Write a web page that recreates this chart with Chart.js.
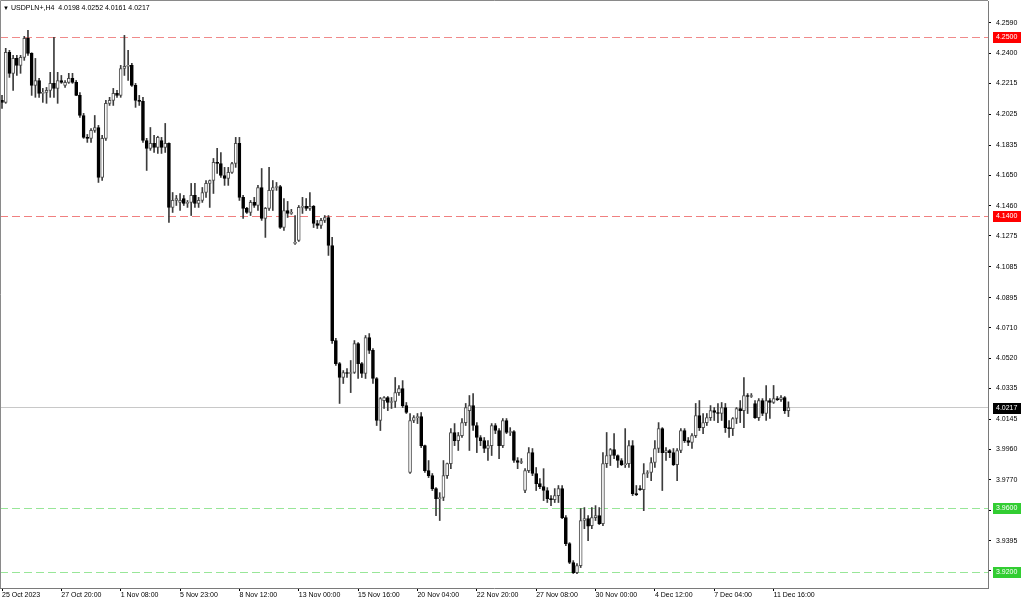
<!DOCTYPE html>
<html>
<head>
<meta charset="utf-8">
<title>USDPLN+,H4</title>
<script src="https://cdn.jsdelivr.net/npm/chart.js@4.4.0/dist/chart.umd.min.js"></script>
<style>
html, body { margin: 0; padding: 0; background: #fff; }
#wrap { width: 1024px; height: 600px; }
</style>
</head>
<body>
<div id="wrap"><canvas id="myChart" width="1024" height="600"></canvas></div>
<script>
const symbol = 'USDPLN+,H4';

// H4 bars, 25 Oct 2023 04:00 .. 12 Dec 2023 08:00 (213 bars)
const opens = [
  4.2111, 4.2099, 4.2407, 4.2278, 4.2370, 4.2327, 4.2376, 4.2494, 4.2401, 4.2204,
  4.2234, 4.2154, 4.2160, 4.2173, 4.2216, 4.2185, 4.2234, 4.2204, 4.2222, 4.2247,
  4.2222, 4.2142, 4.2018, 4.1883, 4.1877, 4.1926, 4.1944, 4.1636, 4.1877, 4.2093,
  4.2111, 4.2154, 4.2142, 4.2308, 4.2321, 4.2327, 4.2204, 4.2111, 4.2105, 4.1864,
  4.1815, 4.1846, 4.1821, 4.1864, 4.1821, 4.1846, 4.1451, 4.1494, 4.1482, 4.1506,
  4.1476, 4.1482, 4.1525, 4.1476, 4.1494, 4.1543, 4.1599, 4.1617, 4.1729, 4.1722,
  4.1648, 4.1630, 4.1667, 4.1722, 4.1846, 4.1513, 4.1445, 4.1420, 4.1482, 4.1463,
  4.1574, 4.1383, 4.1445, 4.1556, 4.1574, 4.1580, 4.1327, 4.1432, 4.1414, 4.1229,
  4.1247, 4.1451, 4.1457, 4.1445, 4.1457, 4.1352, 4.1340, 4.1371, 4.1389, 4.1216,
  4.0630, 4.0488, 4.0402, 4.0433, 4.0427, 4.0433, 4.0612, 4.0488, 4.0427, 4.0649,
  4.0569, 4.0396, 4.0137, 4.0260, 4.0279, 4.0248, 4.0254, 4.0309, 4.0334, 4.0229,
  3.9816, 4.0137, 4.0155, 4.0161, 3.9982, 3.9828, 3.9797, 3.9717, 3.9655, 3.9662,
  3.9797, 3.9871, 4.0063, 4.0013, 4.0044, 4.0124, 4.0198, 4.0229, 4.0106, 4.0032,
  4.0013, 3.9964, 3.9982, 4.0106, 4.0075, 3.9982, 4.0137, 4.0063, 4.0069, 3.9890,
  3.9878, 3.9705, 3.9828, 3.9939, 3.9810, 3.9748, 3.9729, 3.9705, 3.9655, 3.9649,
  3.9674, 3.9717, 3.9538, 3.9378, 3.9261, 3.9199, 3.9242, 3.9520, 3.9532, 3.9489,
  3.9538, 3.9550, 3.9501, 3.9871, 3.9921, 3.9958, 3.9921, 3.9890, 3.9865, 3.9871,
  3.9982, 3.9686, 3.9717, 3.9711, 3.9810, 3.9816, 3.9878, 3.9964, 4.0087, 3.9939,
  3.9952, 3.9939, 3.9865, 3.9952, 4.0075, 4.0013, 4.0001, 4.0044, 4.0167, 4.0093,
  4.0124, 4.0155, 4.0198, 4.0186, 4.0180, 4.0217, 4.0093, 4.0087, 4.0149, 4.0211,
  4.0198, 4.0291, 4.0285, 4.0242, 4.0155, 4.0260, 4.0180, 4.0260, 4.0248, 4.0272,
  4.0266, 4.0279, 4.0198
];
const highs = [
  4.2142, 4.2432, 4.2420, 4.2389, 4.2389, 4.2389, 4.2506, 4.2543, 4.2405, 4.2370,
  4.2247, 4.2185, 4.2191, 4.2284, 4.2500, 4.2284, 4.2265, 4.2234, 4.2278, 4.2278,
  4.2234, 4.2160, 4.2031, 4.1901, 4.1938, 4.2018, 4.1957, 4.1895, 4.2111, 4.2130,
  4.2185, 4.2173, 4.2327, 4.2512, 4.2420, 4.2339, 4.2216, 4.2142, 4.2130, 4.1877,
  4.1944, 4.1895, 4.1890, 4.1883, 4.1969, 4.1850, 4.1543, 4.1525, 4.1537, 4.1525,
  4.1494, 4.1599, 4.1599, 4.1513, 4.1574, 4.1617, 4.1620, 4.1753, 4.1815, 4.1790,
  4.1698, 4.1698, 4.1729, 4.1883, 4.1883, 4.1525, 4.1451, 4.1494, 4.1513, 4.1587,
  4.1691, 4.1451, 4.1698, 4.1617, 4.1605, 4.1587, 4.1506, 4.1488, 4.1439, 4.1401,
  4.1463, 4.1513, 4.1506, 4.1543, 4.1463, 4.1371, 4.1383, 4.1401, 4.1401, 4.1266,
  4.0643, 4.0495, 4.0445, 4.0457, 4.0507, 4.0630, 4.0618, 4.0495, 4.0661, 4.0673,
  4.0581, 4.0402, 4.0279, 4.0285, 4.0285, 4.0279, 4.0402, 4.0353, 4.0383, 4.0248,
  4.0180, 4.0167, 4.0180, 4.0186, 3.9985, 3.9890, 3.9810, 3.9723, 3.9692, 3.9890,
  3.9875, 4.0087, 4.0118, 4.0063, 4.0149, 4.0242, 4.0291, 4.0303, 4.0124, 4.0044,
  4.0032, 4.0013, 4.0118, 4.0118, 4.0087, 4.0149, 4.0149, 4.0093, 4.0075, 3.9908,
  3.9902, 3.9840, 3.9970, 3.9964, 3.9847, 3.9779, 3.9840, 3.9723, 3.9674, 3.9717,
  3.9736, 3.9736, 3.9550, 3.9384, 3.9273, 3.9254, 3.9594, 3.9600, 3.9550, 3.9600,
  3.9612, 3.9600, 3.9939, 4.0063, 3.9964, 4.0056, 3.9925, 3.9902, 4.0087, 4.0013,
  4.0013, 3.9736, 3.9736, 3.9871, 3.9828, 3.9908, 4.0013, 4.0124, 4.0093, 3.9970,
  3.9958, 3.9964, 3.9964, 4.0087, 4.0087, 4.0032, 4.0056, 4.0242, 4.0260, 4.0180,
  4.0180, 4.0229, 4.0217, 4.0242, 4.0248, 4.0242, 4.0137, 4.0155, 4.0217, 4.0260,
  4.0402, 4.0303, 4.0303, 4.0260, 4.0272, 4.0272, 4.0353, 4.0272, 4.0353, 4.0285,
  4.0291, 4.0285, 4.0252
];
const lows = [
  4.2062, 4.2093, 4.2253, 4.2173, 4.2265, 4.2278, 4.2358, 4.2389, 4.2142, 4.2130,
  4.2130, 4.2099, 4.2093, 4.2130, 4.2130, 4.2093, 4.2216, 4.2191, 4.2216, 4.2216,
  4.2140, 4.2006, 4.1877, 4.1852, 4.1852, 4.1914, 4.1605, 4.1617, 4.1864, 4.2080,
  4.2080, 4.2130, 4.2130, 4.2265, 4.2234, 4.2197, 4.2068, 4.2080, 4.1852, 4.1679,
  4.1803, 4.1790, 4.1784, 4.1784, 4.1790, 4.1358, 4.1420, 4.1463, 4.1432, 4.1463,
  4.1451, 4.1401, 4.1451, 4.1451, 4.1482, 4.1513, 4.1451, 4.1537, 4.1661, 4.1636,
  4.1587, 4.1587, 4.1661, 4.1698, 4.1494, 4.1383, 4.1414, 4.1401, 4.1451, 4.1432,
  4.1371, 4.1266, 4.1432, 4.1432, 4.1556, 4.1321, 4.1309, 4.1389, 4.1408, 4.1223,
  4.1241, 4.1414, 4.1432, 4.1432, 4.1327, 4.1321, 4.1321, 4.1358, 4.1155, 4.0612,
  4.0476, 4.0242, 4.0365, 4.0402, 4.0309, 4.0427, 4.0396, 4.0402, 4.0396, 4.0550,
  4.0365, 4.0106, 4.0075, 4.0211, 4.0198, 4.0211, 4.0217, 4.0291, 4.0217, 4.0180,
  3.9810, 4.0124, 4.0118, 3.9970, 3.9816, 3.9785, 3.9705, 3.9550, 3.9520, 3.9643,
  3.9779, 3.9840, 3.9982, 3.9952, 4.0032, 4.0106, 3.9952, 4.0075, 3.9939, 3.9982,
  3.9939, 3.9890, 3.9921, 4.0056, 3.9902, 3.9970, 4.0056, 4.0044, 3.9878, 3.9840,
  3.9871, 3.9692, 3.9816, 3.9797, 3.9705, 3.9717, 3.9643, 3.9631, 3.9612, 3.9631,
  3.9631, 3.9532, 3.9365, 3.9254, 3.9193, 3.9193, 3.9230, 3.9470, 3.9396, 3.9470,
  3.9520, 3.9495, 3.9489, 3.9847, 3.9859, 3.9902, 3.9847, 3.9859, 3.9847, 3.9847,
  3.9674, 3.9674, 3.9705, 3.9581, 3.9785, 3.9766, 3.9847, 3.9939, 3.9705, 3.9890,
  3.9908, 3.9859, 3.9766, 3.9939, 4.0001, 3.9982, 3.9964, 4.0032, 4.0075, 4.0056,
  4.0106, 4.0137, 4.0137, 4.0124, 4.0137, 4.0063, 4.0032, 4.0044, 4.0118, 4.0124,
  4.0093, 4.0180, 4.0279, 4.0149, 4.0137, 4.0167, 4.0137, 4.0149, 4.0242, 4.0260,
  4.0254, 4.0180, 4.0161
];
const closes = [
  4.2099, 4.2407, 4.2278, 4.2370, 4.2327, 4.2376, 4.2494, 4.2401, 4.2204, 4.2234,
  4.2154, 4.2160, 4.2173, 4.2216, 4.2185, 4.2234, 4.2222, 4.2222, 4.2247, 4.2222,
  4.2142, 4.2018, 4.1883, 4.1877, 4.1926, 4.1944, 4.1636, 4.1877, 4.2093, 4.2111,
  4.2154, 4.2142, 4.2308, 4.2321, 4.2327, 4.2204, 4.2111, 4.2105, 4.1864, 4.1815,
  4.1846, 4.1821, 4.1883, 4.1821, 4.1846, 4.1451, 4.1494, 4.1506, 4.1494, 4.1476,
  4.1482, 4.1525, 4.1476, 4.1494, 4.1543, 4.1599, 4.1617, 4.1729, 4.1722, 4.1648,
  4.1630, 4.1667, 4.1722, 4.1846, 4.1513, 4.1445, 4.1420, 4.1482, 4.1463, 4.1574,
  4.1383, 4.1445, 4.1556, 4.1574, 4.1580, 4.1327, 4.1432, 4.1414, 4.1420, 4.1235,
  4.1451, 4.1457, 4.1445, 4.1457, 4.1352, 4.1340, 4.1371, 4.1389, 4.1216, 4.0630,
  4.0488, 4.0402, 4.0433, 4.0427, 4.0433, 4.0612, 4.0488, 4.0427, 4.0649, 4.0569,
  4.0396, 4.0137, 4.0272, 4.0279, 4.0248, 4.0254, 4.0309, 4.0334, 4.0229, 4.0186,
  4.0137, 4.0155, 4.0161, 3.9982, 3.9828, 3.9797, 3.9717, 3.9655, 3.9662, 3.9797,
  3.9871, 4.0063, 4.0013, 4.0044, 4.0124, 4.0217, 4.0229, 4.0106, 4.0032, 4.0013,
  3.9964, 3.9982, 4.0106, 4.0075, 3.9982, 4.0137, 4.0063, 4.0069, 3.9890, 3.9878,
  3.9884, 3.9828, 3.9939, 3.9810, 3.9748, 3.9729, 3.9705, 3.9655, 3.9649, 3.9674,
  3.9717, 3.9538, 3.9378, 3.9261, 3.9199, 3.9242, 3.9520, 3.9532, 3.9485, 3.9538,
  3.9550, 3.9501, 3.9871, 3.9921, 3.9958, 3.9921, 3.9890, 3.9865, 3.9871, 3.9982,
  3.9686, 3.9680, 3.9711, 3.9810, 3.9816, 3.9878, 3.9964, 4.0087, 3.9939, 3.9952,
  3.9939, 3.9865, 3.9952, 4.0075, 4.0013, 4.0001, 4.0044, 4.0167, 4.0093, 4.0124,
  4.0155, 4.0198, 4.0186, 4.0180, 4.0217, 4.0093, 4.0087, 4.0149, 4.0211, 4.0198,
  4.0291, 4.0285, 4.0291, 4.0155, 4.0260, 4.0180, 4.0260, 4.0248, 4.0272, 4.0266,
  4.0279, 4.0198, 4.0217
];

// time axis: a label every 16 bars
const xTickPos = [0, 16, 32, 48, 64, 80, 96, 112, 128, 144, 160, 176, 192, 208];
const xTickLabels = ['25 Oct 2023', '27 Oct 20:00', '1 Nov 08:00', '5 Nov 23:00', '8 Nov 12:00',
  '13 Nov 00:00', '15 Nov 16:00', '20 Nov 04:00', '22 Nov 20:00', '27 Nov 08:00',
  '30 Nov 00:00', '4 Dec 12:00', '7 Dec 04:00', '11 Dec 16:00'];

// price axis
const yTicks = [4.2590, 4.2400, 4.2215, 4.2025, 4.1835, 4.1650, 4.1460, 4.1275, 4.1085, 4.0895,
  4.0710, 4.0520, 4.0335, 4.0145, 3.9960, 3.9770, 3.9580, 3.9395, 3.9210];

// horizontal levels
const levels = [4.2500, 4.1400, 3.9600, 3.9200];
const levelLine = ['#f08a8a', '#f08080', '#98e698', '#98e698'];
const levelBox = ['#ff0000', '#ff0000', '#32cd32', '#32cd32'];

const FONT = "'Liberation Sans', 'DejaVu Sans', sans-serif";
const last = closes.length - 1;

const wickData = opens.map((o, i) => ({
  x: i,
  y: [Math.min(lows[i], o, closes[i]), Math.max(highs[i], o, closes[i])]
}));
const bodyData = opens.map((o, i) => ({x: i, y: [o, closes[i]]}));
const bodyFill = opens.map((o, i) => closes[i] >= o ? '#ffffff' : '#000000');
const bodyLine = opens.map((o, i) => closes[i] >= o ? '#505050' : '#000000');

// levels, bid line, axis boxes and the title
const mtOverlay = {
  id: 'mtOverlay',
  beforeDatasetsDraw(chart) {
    const ctx = chart.ctx, a = chart.chartArea, y = chart.scales.y;
    ctx.save();
    ctx.lineWidth = 1;
    // bid line
    let py = Math.round(y.getPixelForValue(closes[last])) - 0.5;
    ctx.strokeStyle = '#c8c8c8';
    ctx.beginPath(); ctx.moveTo(a.left, py); ctx.lineTo(a.right, py); ctx.stroke();
    ctx.setLineDash([8, 4]);
    levels.forEach((v, k) => {
      py = Math.round(y.getPixelForValue(v)) + 0.5;
      ctx.strokeStyle = levelLine[k];
      ctx.beginPath(); ctx.moveTo(a.left, py); ctx.lineTo(a.right, py); ctx.stroke();
    });
    ctx.restore();
  },
  afterDraw(chart) {
    const ctx = chart.ctx, a = chart.chartArea, y = chart.scales.y;
    ctx.save();
    // frame top/left
    ctx.strokeStyle = '#8a8a8a';
    ctx.lineWidth = 1;
    ctx.beginPath();
    ctx.moveTo(0.5, a.bottom); ctx.lineTo(0.5, 0.5); ctx.lineTo(a.right, 0.5);
    ctx.stroke();

    ctx.font = '7px ' + FONT;
    ctx.textBaseline = 'middle';
    ctx.textAlign = 'left';
    const box = (v, fill) => {
      const py = Math.round(y.getPixelForValue(v));
      ctx.fillStyle = fill;
      ctx.fillRect(a.right + 5, py - 5, 28, 11);
      ctx.fillStyle = '#ffffff';
      ctx.fillText(v.toFixed(4), a.right + 8, py + 0.5);
    };
    levels.forEach((v, k) => box(v, levelBox[k]));
    box(closes[last], '#000000');

    // title
    ctx.fillStyle = '#000000';
    ctx.font = '6px ' + FONT;
    ctx.fillText('\u25BC', 3, 8);
    ctx.font = '7px ' + FONT;
    ctx.fillText(symbol + '  ' + [opens[last], highs[last], lows[last], closes[last]].map(v => v.toFixed(4)).join(' '), 11, 8);
    ctx.restore();
  }
};

const config = {
  type: 'bar',
  data: {
    datasets: [{
      label: 'wick',
      data: wickData,
      backgroundColor: '#3c3c3c',
      barThickness: 1,
      grouped: false,
      minBarLength: 1,
      order: 2
    }, {
      label: 'body',
      data: bodyData,
      backgroundColor: bodyFill,
      borderColor: bodyLine,
      borderWidth: 1,
      borderSkipped: false,
      barThickness: 3,
      grouped: false,
      minBarLength: 1,
      order: 1
    }]
  },
  options: {
    responsive: false,
    animation: false,
    devicePixelRatio: 1,
    layout: {padding: {top: 1, left: 0, right: 0, bottom: 0}},
    plugins: {legend: {display: false}, tooltip: {enabled: false}},
    scales: {
      x: {
        type: 'linear',
        min: -0.54,
        max: 265.8,
        offset: false,
        afterBuildTicks: s => { s.ticks = xTickPos.map(v => ({value: v})); },
        afterFit: s => { s.height = 12; s.paddingLeft = 0; s.paddingRight = 0; },
        grid: {display: true, offset: false, drawOnChartArea: false, drawTicks: true, tickLength: 3, color: '#000000'},
        border: {display: true, color: '#7a7a7a'},
        ticks: {
          autoSkip: false, maxRotation: 0, minRotation: 0, align: 'start', padding: 0,
          color: '#000000', font: {family: FONT, size: 7},
          callback: (v, i) => xTickLabels[i]
        }
      },
      y: {
        position: 'right',
        min: 3.910394,
        max: 4.272405,
        afterBuildTicks: s => { s.ticks = yTicks.map(v => ({value: v})); },
        afterFit: s => { s.width = 36; s.paddingTop = 0; s.paddingBottom = 0; },
        grid: {display: true, drawOnChartArea: false, drawTicks: true, tickLength: 3, color: '#000000'},
        border: {display: true, color: '#7a7a7a'},
        ticks: {
          padding: 5, color: '#000000', font: {family: FONT, size: 7},
          callback: v => v.toFixed(4)
        }
      }
    }
  },
  plugins: [mtOverlay]
};

new Chart(document.getElementById('myChart'), config);
</script>
</body>
</html>
